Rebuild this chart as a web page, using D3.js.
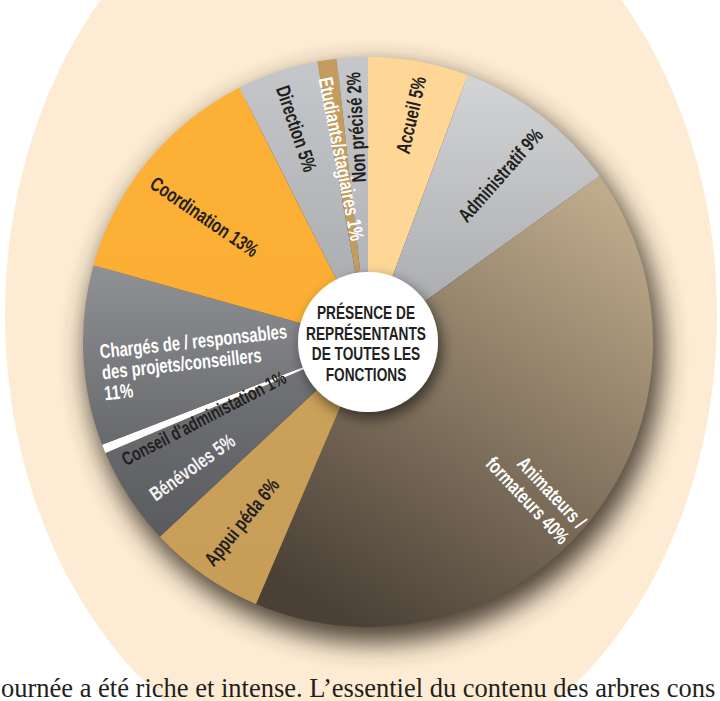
<!DOCTYPE html>
<html lang="fr">
<head>
<meta charset="UTF-8">
<title>Présence de représentants de toutes les fonctions</title>
<style>
  body { margin: 0; background: #fff; overflow: hidden; }
  svg { display: block; }
  .lbl { font-family: "Liberation Sans", Arial, sans-serif; font-weight: bold; }
  .body-text { font-family: "Liberation Serif", "DejaVu Serif", serif; fill: #231f20; }
</style>
</head>
<body>
<svg id="chart"></svg>
<script src="https://cdn.jsdelivr.net/npm/d3@7"></script>
<script>
const categories = ["Accueil", "Administratif", "Animateurs / formateurs", "Appui péda", "Bénévoles",
  "Conseil d'administation", "Chargés de / responsables des projets/conseillers", "Coordination",
  "Direction", "Etudiants/stagiaires", "Non précisé"];
const shares = [5.7, 9.4, 41.3, 6.6, 5.6, 0.5, 10.2, 13.2, 4.6, 1.1, 1.75];
const printedPct = ["5%", "9%", "40%", "6%", "5%", "1%", "11%", "13%", "5%", "1%", "2%"];
const labelLines = [
  ["Accueil 5%"],
  ["Administratif 9%"],
  ["Animateurs /", "formateurs 40%"],
  ["Appui péda 6%"],
  ["Bénévoles 5%"],
  ["Conseil d'administation 1%"],
  ["Chargés de / responsables", "des projets/conseillers", "11%"],
  ["Coordination 13%"],
  ["Direction 5%"],
  ["Etudiants/stagiaires 1%"],
  ["Non précisé 2%"]
];
const centerTitle = ["PRÉSENCE DE", "REPRÉSENTANTS", "DE TOUTES LES", "FONCTIONS"];
const bodyLine = "ournée a été riche et intense. L’essentiel du contenu des arbres cons";

// slice colours: top / bottom of each slice gradient
const colTop = ["#fed696", "#d3d4d6", "#bfab8b", "#cba15b", "#76777b", "#ffffff", "#909195", "#fcb136", "#c6c7ca", "#c39c60", "#c6c7ca"];
const colBot = ["#fed696", "#a6a7aa", "#4a4036", "#c79d57", "#5a5b5f", "#ffffff", "#68696d", "#fbae33", "#a6a7aa", "#c39c60", "#adaeb1"];
const textFill = ["#231f20", "#231f20", "#ffffff", "#231f20", "#f2f2f2", "#231f20", "#ffffff", "#231f20", "#231f20", "#ffffff", "#231f20"];

// label placement: radius, reading direction, angle tweaks
const labelPos = [
  { r: 231, dir: "out", rotAdj: 2, angAdj: 0.5 },
  { r: 213, dir: "out", rotAdj: 3, angAdj: 1 },
  { r: 221, dir: "out", rotAdj: 5, angAdj: 3, anchor: "end", x: 60, lh: 23 },
  { r: 220, dir: "in", rotAdj: 4, angAdj: 0 },
  { r: 216, dir: "in", rotAdj: 0, angAdj: -2.5 },
  { r: 181, dir: "in", rotAdj: -2.5, angAdj: -3, size: 19 },
  { r: 175, dir: "in", rotAdj: -3.5, angAdj: 0, anchor: "start", x: -93, y0: -2, lh: 21, base: true },
  { r: 206, dir: "in", rotAdj: -3, angAdj: -2 },
  { r: 225, dir: "in", rotAdj: 0, angAdj: 0 },
  { r: 185, dir: "in", rotAdj: -3, angAdj: 0 },
  { r: 215, dir: "out", rotAdj: 0, angAdj: 0 }
];
const narrow = 0.74; // horizontal squeeze to mimic a condensed face

const width = 720, height = 701;
const cx = 368, cy = 342, radius = 285, holeR = 70;

const svg = d3.select("#chart").attr("width", width).attr("height", height);
const defs = svg.append("defs");

// soft shadow under the pie
const sh = defs.append("filter").attr("id", "pieShadow")
  .attr("x", "-30%").attr("y", "-30%").attr("width", "160%").attr("height", "160%");
sh.append("feGaussianBlur").attr("stdDeviation", 13);

const hs = defs.append("filter").attr("id", "holeShadow")
  .attr("x", "-50%").attr("y", "-50%").attr("width", "200%").attr("height", "200%");
hs.append("feGaussianBlur").attr("in", "SourceAlpha").attr("stdDeviation", 7).attr("result", "b");
hs.append("feOffset").attr("in", "b").attr("dx", 4).attr("dy", 6).attr("result", "o");
hs.append("feComponentTransfer").attr("in", "o").attr("result", "s")
  .append("feFuncA").attr("type", "linear").attr("slope", 0.55);
const hm = hs.append("feMerge");
hm.append("feMergeNode").attr("in", "s");
hm.append("feMergeNode").attr("in", "SourceGraphic");

// background ellipse
svg.append("ellipse")
  .attr("cx", 361).attr("cy", 315).attr("rx", 356).attr("ry", 462)
  .attr("fill", "#fdecd3");

const g = svg.append("g").attr("transform", `translate(${cx},${cy})`);

g.append("circle")
  .attr("cx", 6).attr("cy", 13).attr("r", radius + 3)
  .attr("fill", "#3a3026").attr("opacity", 0.9)
  .attr("filter", "url(#pieShadow)");

const pie = d3.pie().sort(null).value(d => d)
  .startAngle(0).endAngle(2 * Math.PI);
const arcs = pie(shares);
const arc = d3.arc().innerRadius(0).outerRadius(radius);

arcs.forEach((a, i) => {
  const lg = defs.append("linearGradient").attr("id", "grad" + i)
    .attr("x1", i === 2 ? 0.8 : 0.5).attr("y1", 0)
    .attr("x2", i === 2 ? 0.25 : 0.5).attr("y2", 1);
  lg.append("stop").attr("offset", "0%").attr("stop-color", colTop[i]);
  lg.append("stop").attr("offset", "100%").attr("stop-color", colBot[i]);
});

g.selectAll("path.slice")
  .data(arcs)
  .join("path")
  .attr("class", "slice")
  .attr("d", arc)
  .attr("fill", (d, i) => `url(#grad${i})`);

// slice labels
const toDeg = 180 / Math.PI;
arcs.forEach((a, i) => {
  const p = labelPos[i];
  const midDeg = (a.startAngle + a.endAngle) / 2 * toDeg + p.angAdj;
  const t = midDeg / toDeg;
  const x = Math.sin(t) * p.r, y = -Math.cos(t) * p.r;
  const rot = (p.dir === "out" ? midDeg - 90 : midDeg + 90) + p.rotAdj;
  const lg = g.append("g").attr("transform", `translate(${x},${y}) rotate(${rot}) scale(${narrow},1)`);
  const lines = labelLines[i];
  const lh = p.lh || 21;
  lines.forEach((ln, j) => {
    lg.append("text")
      .attr("class", "lbl")
      .attr("x", (p.x || 0) / narrow)
      .attr("y", p.base ? p.y0 + j * lh : (j - (lines.length - 1) / 2) * lh)
      .attr("dominant-baseline", p.base ? "auto" : "central")
      .attr("text-anchor", p.anchor || "middle")
      .attr("font-size", p.size || 20)
      .attr("fill", textFill[i])
      .text(ln);
  });
});

// centre disc
g.append("circle").attr("r", holeR).attr("fill", "#fff").attr("filter", "url(#holeShadow)");
const ct = g.append("g").attr("transform", `translate(-2,0) scale(${narrow},1)`);
centerTitle.forEach((ln, j) => {
  ct.append("text")
    .attr("class", "lbl")
    .attr("text-anchor", "middle")
    .attr("y", (j - 1.5) * 21 + 8)
    .attr("font-size", 18.5)
    .attr("fill", "#231f20")
    .text(ln);
});

// running text at the foot of the page
svg.append("text")
  .attr("class", "body-text")
  .attr("x", 1).attr("y", 697)
  .attr("font-size", 26.5)
  .text(bodyLine);
</script>
</body>
</html>
